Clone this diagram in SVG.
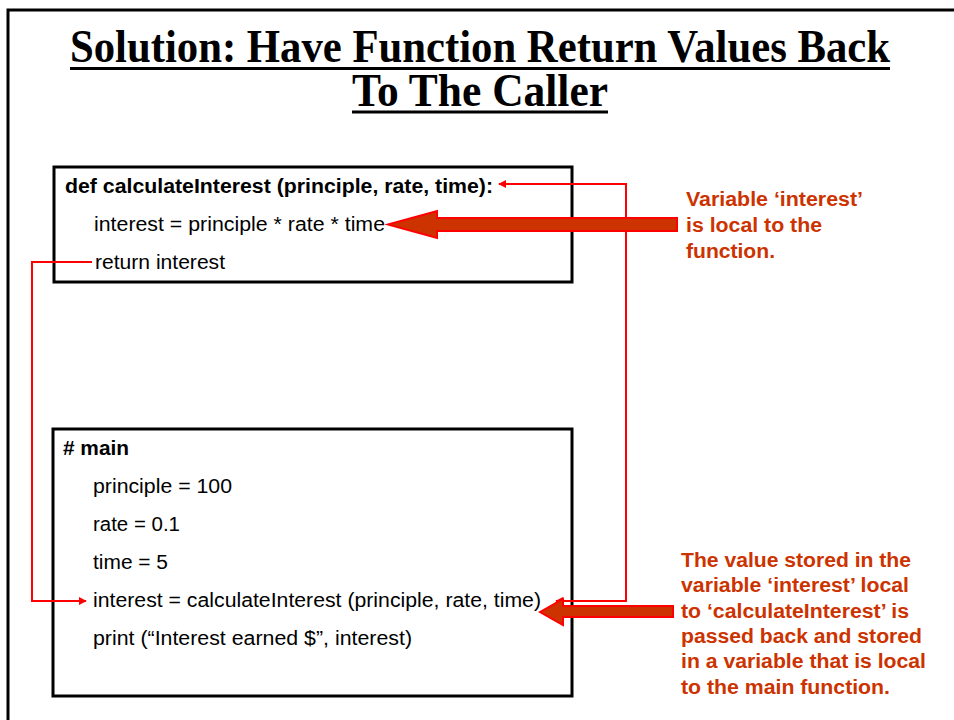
<svg xmlns="http://www.w3.org/2000/svg" width="954" height="720" viewBox="0 0 954 720">
<defs>
<style>
.title{font-family:"Liberation Serif","Times New Roman",serif;font-weight:bold;font-size:47px;fill:#000}
.code{font-family:"Liberation Sans",Arial,sans-serif;font-size:20px;fill:#000}
.bold{font-weight:bold}
.note{font-family:"Liberation Sans",Arial,sans-serif;font-size:20px;font-weight:bold;fill:#CC3300}
.box{fill:#fff;stroke:#000;stroke-width:3}
.conn{fill:none;stroke:#FF0000;stroke-width:2}
.big{fill:#CC3300;stroke:#FF0000;stroke-width:2;stroke-linejoin:miter}
</style>
<marker id="ah" viewBox="0 0 10 10" refX="9" refY="5" markerWidth="4" markerHeight="4" orient="auto-start-reverse" markerUnits="strokeWidth">
<path d="M0,0 L10,5 L0,10 z" fill="#FF0000"/>
</marker>
</defs>
<rect width="954" height="720" fill="#fff"/>
<path d="M8,720 V10 H954" fill="none" stroke="#000" stroke-width="3"/>
<g id="title">
<text class="title" x="70" y="62" textLength="820" lengthAdjust="spacingAndGlyphs">Solution: Have Function Return Values Back</text>
<line x1="70" y1="68.5" x2="890" y2="68.5" stroke="#000" stroke-width="3"/>
<text class="title" x="352" y="106" textLength="256" lengthAdjust="spacingAndGlyphs">To The Caller</text>
<line x1="352" y1="112" x2="608" y2="112" stroke="#000" stroke-width="3"/>
</g>
<g id="functionBox">
<rect class="box" x="54" y="167" width="518" height="115"/>
<text class="code bold" x="65" y="193" textLength="428" lengthAdjust="spacingAndGlyphs">def calculateInterest (principle, rate, time):</text>
<text class="code" x="94" y="231" textLength="291" lengthAdjust="spacingAndGlyphs">interest = principle * rate * time</text>
<text class="code" x="95" y="269" textLength="130" lengthAdjust="spacingAndGlyphs">return interest</text>
</g>
<g id="mainBox">
<rect class="box" x="53" y="429" width="519" height="267"/>
<text class="code bold" x="63" y="455" textLength="66" lengthAdjust="spacingAndGlyphs"># main</text>
<text class="code" x="93" y="493" textLength="139" lengthAdjust="spacingAndGlyphs">principle = 100</text>
<text class="code" x="93" y="531" textLength="87" lengthAdjust="spacingAndGlyphs">rate = 0.1</text>
<text class="code" x="93" y="569" textLength="75" lengthAdjust="spacingAndGlyphs">time = 5</text>
<text class="code" x="93" y="607" textLength="448" lengthAdjust="spacingAndGlyphs">interest = calculateInterest (principle, rate, time)</text>
<text class="code" x="93" y="645" textLength="319" lengthAdjust="spacingAndGlyphs">print (“Interest earned $”, interest)</text>
</g>
<g id="note1">
<text class="note" x="686" y="206" textLength="177" lengthAdjust="spacingAndGlyphs">Variable ‘interest’</text>
<text class="note" x="686" y="232" textLength="136" lengthAdjust="spacingAndGlyphs">is local to the</text>
<text class="note" x="686" y="258" textLength="89" lengthAdjust="spacingAndGlyphs">function.</text>
</g>
<g id="note2">
<text class="note" x="681" y="567" textLength="230" lengthAdjust="spacingAndGlyphs">The value stored in the</text>
<text class="note" x="681" y="592" textLength="228" lengthAdjust="spacingAndGlyphs">variable ‘interest’ local</text>
<text class="note" x="681" y="618" textLength="228" lengthAdjust="spacingAndGlyphs">to ‘calculateInterest’ is</text>
<text class="note" x="681" y="643" textLength="241" lengthAdjust="spacingAndGlyphs">passed back and stored</text>
<text class="note" x="681" y="668" textLength="245" lengthAdjust="spacingAndGlyphs">in a variable that is local</text>
<text class="note" x="681" y="694" textLength="209" lengthAdjust="spacingAndGlyphs">to the main function.</text>
</g>
<g id="connectors">
<path class="conn" d="M92,262 H32 V601 H86" marker-end="url(#ah)"/>
<path class="conn" d="M499,184 H626 V601 H556" marker-start="url(#ah)" marker-end="url(#ah)"/>
<polygon class="big" points="388,224.5 437,211 437,218 677,218 677,231 437,231 437,238"/>
<polygon class="big" points="540,612 563,599 563,606 673,606 673,617 563,617 563,625"/>
</g>
</svg>
